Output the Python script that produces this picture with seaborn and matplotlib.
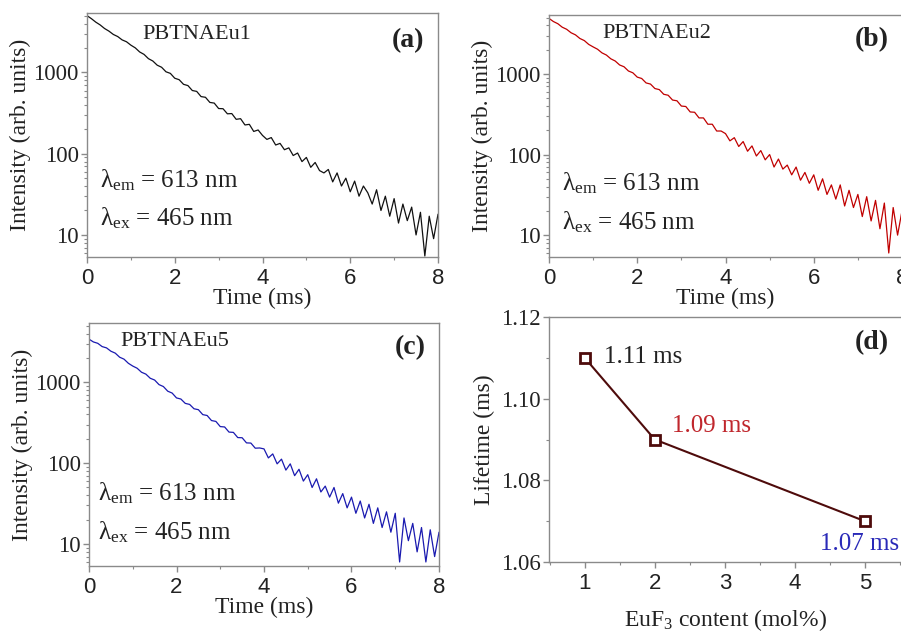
import numpy as np
import pandas as pd
import matplotlib
matplotlib.use("Agg")
import matplotlib.pyplot as plt
import seaborn as sns
from matplotlib.ticker import LogLocator, NullFormatter, FixedLocator, MultipleLocator

# ---------------- data ----------------
time_ms = [round(0.1 * i, 1) for i in range(81)]

intensity_eu1 = [5010, 4600, 4170, 3850, 3480, 3230, 2940, 2770, 2520, 2390,
                 2170, 2010, 1790, 1670, 1480, 1385, 1230, 1160, 1020, 975,
                 850, 815, 715, 690, 600, 585, 505, 495, 428, 420,
                 360, 358, 310, 312, 265, 270, 226, 230, 188, 196,
                 168, 150, 158, 128, 134, 112, 118, 95, 102, 80,
                 90, 68, 78, 62, 58, 64, 45, 58, 40, 50,
                 34, 46, 30, 40, 33, 24, 36, 20, 30, 17,
                 28, 14, 24, 15, 22, 10, 19, 5.5, 17, 9, 18]

intensity_eu2 = [4900, 4480, 4210, 3810, 3590, 3250, 3060, 2760, 2600, 2330,
                 2170, 2030, 1830, 1720, 1545, 1450, 1295, 1230, 1090, 1035,
                 915, 880, 775, 750, 660, 640, 560, 545, 475, 465,
                 400, 395, 338, 335, 285, 285, 238, 238, 196, 196,
                 182, 148, 162, 126, 145, 110, 128, 96, 112, 86,
                 100, 70, 88, 66, 74, 56, 70, 48, 60, 44,
                 56, 36, 50, 32, 42, 28, 42, 23, 36, 22,
                 32, 17, 30, 15, 27, 12, 25, 6, 22, 10, 20]

intensity_eu5 = [3410, 3150, 3030, 2760, 2660, 2420, 2290, 2040, 1930, 1715,
                 1585, 1490, 1330, 1260, 1120, 1065, 935, 885, 775, 735,
                 640, 620, 548, 532, 470, 458, 398, 388, 336, 328,
                 283, 280, 242, 240, 207, 206, 178, 177, 153, 154,
                 150, 116, 130, 98, 112, 82, 98, 70, 84, 60,
                 72, 50, 64, 44, 52, 38, 50, 32, 42, 28,
                 38, 24, 34, 21, 31, 18, 28, 16, 25, 14,
                 24, 6, 21, 11, 18, 8, 16, 6, 15, 7, 14]

samples = ["PBTNAEu1", "PBTNAEu2", "PBTNAEu5"]
panel_tags = ["(a)", "(b)", "(c)"]

eu_content = [1, 2, 5]
lifetime = [1.11, 1.09, 1.07]
lifetime_labels = ["1.11 ms", "1.09 ms", "1.07 ms"]

# ---------------- style ----------------
sns.set_theme(style="ticks")
plt.rcParams["font.family"] = ["Liberation Serif", "DejaVu Serif"]
plt.rcParams["mathtext.fontset"] = "custom"
plt.rcParams["mathtext.rm"] = "Liberation Serif"
plt.rcParams["mathtext.it"] = "Liberation Serif:italic"

SERIF = "Liberation Serif"
SANS = "Liberation Sans"
SPINE = "#8a8a8a"
TXT = "#222222"
curve_colors = ["#111111", "#c00000", "#1a1ab0"]
label_colors = ["#222222", "#c0272d", "#2a2ab8"]
line_d = "#4e0b0b"

fig = plt.figure(figsize=(9.01, 6.31), dpi=100)

rects = [
    (87 / 901, 1 - 257 / 631, (438 - 87) / 901, (257 - 13) / 631),
    (549 / 901, 1 - 257 / 631, (902 - 549) / 901, (257 - 15) / 631),
    (89 / 901, 1 - 566 / 631, (439 - 89) / 901, (566 - 323) / 631),
]
name_pos = [(0.314, 0.91), (0.306, 0.925), (0.246, 0.922)]
tag_pos = [(0.915, 0.885), (0.915, 0.897), (0.917, 0.90)]
lam_pos = [(0.037, 0.316, 0.16), (0.037, 0.306, 0.145), (0.027, 0.30, 0.14)]

series = [intensity_eu1, intensity_eu2, intensity_eu5]


def style_axes(ax):
    for s in ax.spines.values():
        s.set_color(SPINE)
        s.set_linewidth(1.0)
    ax.tick_params(which="both", direction="out", color=SPINE, labelcolor=TXT)
    ax.tick_params(which="major", length=4, width=1.0)
    ax.tick_params(which="minor", length=2.5, width=0.8)


for i in range(3):
    ax = fig.add_axes(rects[i])
    df = pd.DataFrame({"t": time_ms, "I": series[i]})
    sns.lineplot(data=df, x="t", y="I", ax=ax, color=curve_colors[i],
                 linewidth=0.9, estimator=None, sort=False)
    ax.set_yscale("log")
    ax.set_xlim(0, 8)
    ax.set_ylim(5.35, 5400)
    ax.xaxis.set_minor_locator(MultipleLocator(1))
    ax.yaxis.set_major_locator(FixedLocator([10, 100, 1000]))
    ax.yaxis.set_minor_locator(LogLocator(base=10, subs=np.arange(2, 10)))
    ax.yaxis.set_minor_formatter(NullFormatter())
    ax.set_yticks([10, 100, 1000])
    ax.set_yticklabels(["10", "100", "1000"], fontfamily=SERIF, fontsize=16.5)
    ax.set_xticks([0, 2, 4, 6, 8])
    ax.set_xticklabels(["0", "2", "4", "6", "8"], fontfamily=SANS, fontsize=16)
    ax.tick_params(axis="x", pad=4)
    ax.tick_params(axis="y", pad=2)
    style_axes(ax)
    ax.set_xlabel("Time (ms)", fontfamily=SERIF, fontsize=17, labelpad=-1, color=TXT)
    ax.set_ylabel("Intensity (arb. units)", fontfamily=SERIF, fontsize=17,
                  labelpad=2, color=TXT)
    ax.text(*name_pos[i], samples[i], transform=ax.transAxes, ha="center",
            va="center", fontfamily=SERIF, fontsize=16, color=TXT)
    ax.text(*tag_pos[i], panel_tags[i], transform=ax.transAxes, ha="center",
            va="center", fontfamily=SERIF, fontsize=20, fontweight="bold",
            color=TXT)
    lx, ly1, ly2 = lam_pos[i]
    ax.text(lx, ly1, "λ$_{\\mathrm{em}}$ = 613 nm", transform=ax.transAxes,
            ha="left", va="center", fontfamily=SERIF, fontsize=18, color=TXT)
    ax.text(lx, ly2, "λ$_{\\mathrm{ex}}$ = 465 nm", transform=ax.transAxes,
            ha="left", va="center", fontfamily=SERIF, fontsize=18, color=TXT)

# ---------------- panel (d) ----------------
axd = fig.add_axes((549 / 901, 1 - 562 / 631, (902 - 549) / 901, (562 - 317) / 631))
dfd = pd.DataFrame({"c": eu_content, "tau": lifetime})
sns.lineplot(data=dfd, x="c", y="tau", ax=axd, color=line_d, linewidth=1.5,
             marker="s", markersize=7, markerfacecolor="white",
             markeredgecolor=line_d, markeredgewidth=2.0, estimator=None)
axd.set_xlim(0.49, 5.53)
axd.set_ylim(1.06, 1.12)
axd.xaxis.set_minor_locator(MultipleLocator(0.5))
axd.yaxis.set_minor_locator(MultipleLocator(0.01))
axd.set_xticks([1, 2, 3, 4, 5])
axd.set_xticklabels(["1", "2", "3", "4", "5"], fontfamily=SANS, fontsize=16)
axd.set_yticks([1.06, 1.08, 1.10, 1.12])
axd.set_yticklabels(["1.06", "1.08", "1.10", "1.12"], fontfamily=SERIF, fontsize=16.5)
axd.tick_params(axis="x", pad=4)
axd.tick_params(axis="y", pad=2)
style_axes(axd)
axd.set_xlabel("EuF$_{3}$ content (mol%)", fontfamily=SERIF, fontsize=17,
               labelpad=9, color=TXT)
axd.set_ylabel("Lifetime (ms)", fontfamily=SERIF, fontsize=17, labelpad=4, color=TXT)
lab_xy = [(1.27, 1.1102), (2.24, 1.0933), (4.36, 1.0644)]
for (lx, ly), txt, col in zip(lab_xy, lifetime_labels, label_colors):
    axd.text(lx, ly, txt, ha="left", va="center", fontfamily=SERIF,
             fontsize=18, color=col)
axd.text(0.915, 0.895, "(d)", transform=axd.transAxes, ha="center", va="center",
         fontfamily=SERIF, fontsize=20, fontweight="bold", color=TXT)

fig.savefig("out.png", dpi=100)
